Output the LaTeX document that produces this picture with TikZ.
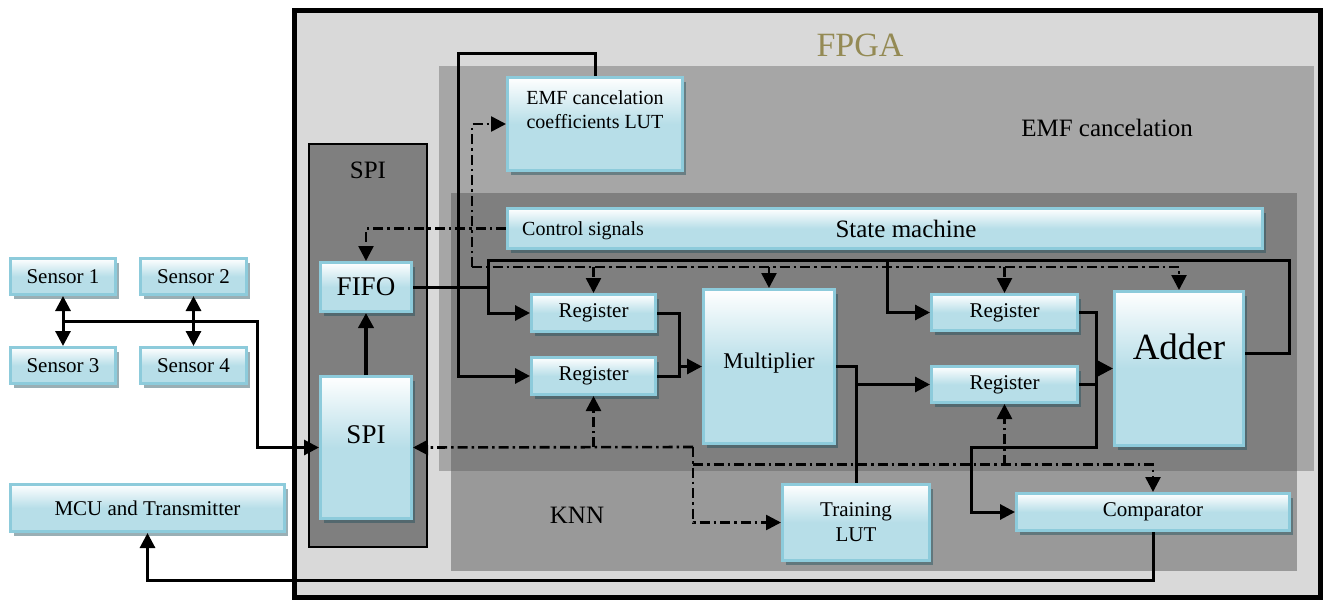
\documentclass[tikz,border=0pt]{standalone}
\usepackage{fontspec}
\setmainfont{Liberation Serif}
\usetikzlibrary{arrows.meta,shadows}
\definecolor{fpgabg}{HTML}{D9D9D9}
\definecolor{emfbg}{HTML}{A6A6A6}
\definecolor{knnbg}{HTML}{999999}
\definecolor{darkbg}{HTML}{7F7F7F}
\definecolor{boxblue}{HTML}{B7DEE8}
\definecolor{boxedge}{HTML}{8DCBDB}
\definecolor{shadowc}{HTML}{1F4E5A}
\definecolor{fpgatext}{HTML}{948A54}
\tikzset{
  blk/.style={draw=boxedge, line width=3pt, top color=white, bottom color=boxblue, middle color=boxblue,
    drop shadow={shadow xshift=3pt, shadow yshift=-4pt, fill=shadowc, opacity=0.45},
    inner sep=0pt, text=black, font=\fontsize{21}{25}\selectfont},
  rlab/.style={font=\fontsize{25}{30}\selectfont, text=black, inner sep=0pt},
  wire/.style={line width=3pt, draw=black},
  arr/.style={wire, ->},
  dbl/.style={wire, <->},
  dd/.style={line width=2.6pt, draw=black, dash pattern=on 10pt off 4pt on 2.5pt off 4pt},
  dda/.style={dd, ->}
}
\begin{document}
\begin{tikzpicture}[x=1pt,y=-1pt, >={Triangle[length=15pt,width=15pt]}]
\useasboundingbox (0,0) rectangle (1323,600);
% FPGA area and sub-regions
\draw[fill=fpgabg, line width=5pt] (294,10.3) rectangle (1320,597.5);
\fill[emfbg] (439,66) rectangle (1314,471);
\fill[knnbg] (451,193) rectangle (1297,571);
\fill[darkbg] (451,193) rectangle (1297,471);
\draw[fill=darkbg, line width=2pt] (309,144) rectangle (427,547);
\node[font=\fontsize{34}{40}\selectfont, text=fpgatext, inner sep=0pt] (fpgal) at (860,45) {FPGA};
\node[rlab] (emfl) at (1107,128) {EMF cancelation};
\node[rlab] (knnl) at (577,515) {KNN};
\node[rlab] (spil) at (368,170) {SPI};

% boxes
\node[blk, minimum width=105, minimum height=36] (s1) at (63,276.5) {Sensor 1};
\node[blk, minimum width=106, minimum height=36] (s2) at (193.5,276.5) {Sensor 2};
\node[blk, minimum width=105, minimum height=36] (s3) at (63,365.5) {Sensor 3};
\node[blk, minimum width=106, minimum height=36] (s4) at (193.5,365.5) {Sensor 4};
\node[blk, minimum width=274, minimum height=47] (mcu) at (147.5,508) {MCU and Transmitter};
\node[blk, minimum width=91, minimum height=142, font=\fontsize{27}{32}\selectfont] (spi) at (366,447.5) {\raisebox{26pt}{SPI}};
\node[blk, minimum width=91, minimum height=49, font=\fontsize{27}{32}\selectfont] (fifo) at (366,287) {FIFO};
\node[blk, minimum width=175, minimum height=93, font=\fontsize{20}{24}\selectfont] (lutE) at (595,124)
  {\raisebox{44pt}{\begin{tabular}{@{}c@{}}EMF cancelation\\coefficients LUT\end{tabular}}};
\node[blk, minimum width=755, minimum height=40, font=\fontsize{25}{30}\selectfont] (sm) at (885,228.5) {\hspace*{42pt}State machine};
\node[font=\fontsize{20}{24}\selectfont, anchor=west, inner sep=0pt] (cs) at (522,231) {Control signals};
\node[blk, minimum width=124, minimum height=37] (r1) at (593.5,313) {Register};
\node[blk, minimum width=124, minimum height=37] (r2) at (593.5,376) {Register};
\node[blk, minimum width=131, minimum height=154, font=\fontsize{22.5}{27}\selectfont] (mul) at (769,366.5) {\raisebox{12pt}{Multiplier}};
\node[blk, minimum width=146, minimum height=36] (r3) at (1004.5,312.5) {Register};
\node[blk, minimum width=146, minimum height=36] (r4) at (1004.5,384.5) {Register};
\node[blk, minimum width=129, minimum height=154, font=\fontsize{37}{44}\selectfont] (add) at (1179,368.5) {\raisebox{44pt}{Adder}};
\node[blk, minimum width=147, minimum height=76, align=center, font=\fontsize{21}{25}\selectfont] (tlut) at (856,522.5) {Training\\LUT};
\node[blk, minimum width=273, minimum height=37] (cmp) at (1153,512) {Comparator};

% junction coordinates
\coordinate (sb) at (63,321);
\coordinate (cb) at (472,267);
\coordinate (kb) at (693,447);
\coordinate (kc) at (693,464.5);
\coordinate (ja) at (1096,368.5);
\coordinate (jm) at (679,366.5);

% solid connectors
\draw[dbl] (s1.south) -- (s3.north);
\draw[dbl] (s2.south) -- (s4.north);
\draw[arr] (sb) -- (257,321) |- (spi.west);
\draw[wire, line width=4pt, ->] (spi.north) -- (fifo.south);
\draw[arr] (fifo.east) -- (488,287) |- (r1.west);
\draw[wire] ([yshift=15.5pt]add.east) -| (1289,260) -| (488,287);
\draw[arr] (887,260) |- (r3.west);
\draw[arr] (lutE.north) |- (458,53) |- (r2.west);
\draw[arr] (r1.east) -| (jm) -- (mul.west);
\draw[wire] (r2.east) -| (jm);
\draw[wire] (mul.east) -| (tlut.north);
\draw[arr] (tlut.north |- r4.west) -- (r4.west);
\draw[arr] (r3.east) -| (ja) -- (add.west);
\draw[wire] (r4.east) -| (ja);
\draw[arr] (ja) |- (971,447) |- (cmp.west);
\draw[arr] (cmp.south) |- (mcu.south |- 0,580) -- (mcu.south);

% control (dash-dot) connectors
\draw[dda] (sm.west) -| (fifo.north);
\draw[dda] (cb) |- (lutE.west);
\draw[dda] (cb) -| (add.north);
\draw[dda] (r1.north |- cb) -- (r1.north);
\draw[dda] (mul.north |- cb) -- (mul.north);
\draw[dda] (r3.north |- cb) -- (r3.north);
\draw[dda] (kb) -- (spi.east);
\draw[dda] (r2.south |- kb) -- (r2.south);
\draw[dda] (kb) |- (tlut.west);
\draw[dda] (kc) -| (cmp.north);
\draw[dda] (r4.south |- kc) -- (r4.south);
\end{tikzpicture}
\end{document}
